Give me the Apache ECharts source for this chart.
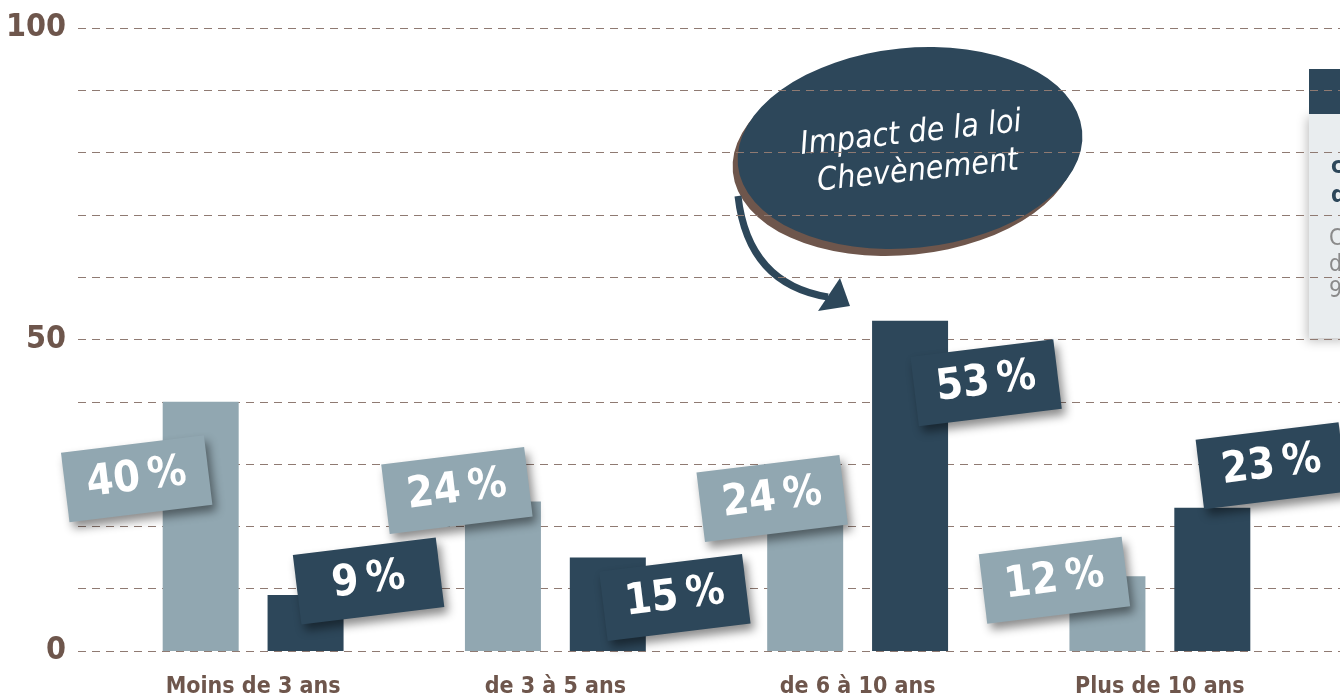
<!DOCTYPE html>
<html>

<head>
    <meta charset="UTF-8">
    <style type="text/css">
        body {
            margin: 0;
            padding: 0;
            overflow: hidden;
            background: #fff;
        }

        #chart {
            width: 1340px;
            height: 699px;
        }
    </style>
</head>

<body>
    <div id="chart"></div>
    <script src="https://cdn.jsdelivr.net/npm/echarts@6/dist/echarts.min.js"></script>
    <script>
        let CATEGORIES = ['Moins de 3 ans', 'de 3 à 5 ans', 'de 6 à 10 ans', 'Plus de 10 ans'];
        let LIGHT_VALUES = [40, 24, 24, 12];
        let DARK_VALUES = [9, 15, 53, 23];
        let Y_LABELS = [0, 50, 100];

        // label boxes are placed by hand in the original, offsets from bar top-left
        let LIGHT_LABEL_POS = [[-26, 77], [-8, -11], [5, -3], [-15, 4]];
        let DARK_LABEL_POS = [[101, -14], [105, 40], [114, 62], [97, -42]];

        let LIGHT = '#91a7b1';
        let DARK = '#2d475a';
        let BROWN = '#6e564c';
        let NARROW = '"Liberation Sans Narrow", "DejaVu Sans Condensed", sans-serif';

        var myChart = echarts.init(document.getElementById('chart'));

        function boxLabel(color) {
            return {
                show: true,
                formatter: '{c}\u2009%',
                rotate: 7,
                align: 'center',
                verticalAlign: 'middle',
                color: '#fff',
                fontFamily: NARROW,
                fontWeight: 'bold',
                fontSize: 43,
                lineHeight: 52,
                width: 104,
                height: 52,
                padding: [9, 20],
                backgroundColor: color,
                shadowColor: 'rgba(0,0,0,0.45)',
                shadowBlur: 10,
                shadowOffsetX: 4,
                shadowOffsetY: 6
            };
        }

        function makeData(values, pos) {
            return values.map((v, i) => ({
                value: v,
                label: { position: pos[i] }
            }));
        }

        let option = {
            animation: false,
            grid: [
                { left: 102, right: 29, top: 28, bottom: 48, outerBoundsMode: 'none' },
                { left: 78, right: 0, top: 28, bottom: 48, outerBoundsMode: 'none' }
            ],
            xAxis: [
                {
                    type: 'category',
                    gridIndex: 0,
                    data: CATEGORIES,
                    axisLine: { show: false },
                    axisTick: { show: false },
                    axisLabel: {
                        margin: 25,
                        color: BROWN,
                        fontFamily: NARROW,
                        fontWeight: 'bold',
                        fontSize: 23
                    }
                },
                { type: 'value', gridIndex: 1, show: false, min: 0, max: 1 }
            ],
            yAxis: [
                { type: 'value', gridIndex: 0, min: 0, max: 100, show: false },
                {
                    type: 'value',
                    gridIndex: 1,
                    min: 0,
                    max: 100,
                    interval: 10,
                    axisLine: { show: false },
                    axisTick: { show: false },
                    splitLine: {
                        lineStyle: { color: '#8f7a72', type: [8, 6], width: 1.2 }
                    },
                    axisLabel: {
                        margin: 12,
                        color: BROWN,
                        fontFamily: NARROW,
                        fontWeight: 'bold',
                        fontSize: 32,
                        formatter: function (v) {
                            return Y_LABELS.indexOf(v) >= 0 ? String(v) : '';
                        }
                    }
                }
            ],
            series: [
                {
                    type: 'bar',
                    name: 'clair',
                    xAxisIndex: 0,
                    yAxisIndex: 0,
                    barWidth: 76,
                    barGap: '38%',
                    itemStyle: { color: LIGHT },
                    label: boxLabel(LIGHT),
                    data: makeData(LIGHT_VALUES, LIGHT_LABEL_POS)
                },
                {
                    type: 'bar',
                    name: 'foncé',
                    xAxisIndex: 0,
                    yAxisIndex: 0,
                    barWidth: 76,
                    barGap: '38%',
                    itemStyle: { color: DARK },
                    label: boxLabel(DARK),
                    data: makeData(DARK_VALUES, DARK_LABEL_POS)
                }
            ],
            graphic: [
                // callout bubble
                {
                    type: 'circle', x: 905, y: 155, rotation: 0.1, scaleX: 1.73,
                    shape: { cx: 0, cy: 0, r: 100 },
                    style: { fill: BROWN }
                },
                {
                    type: 'circle', x: 910, y: 148, rotation: 0.1, scaleX: 1.73,
                    shape: { cx: 0, cy: 0, r: 100 },
                    style: { fill: DARK }
                },
                {
                    type: 'group', x: 913, y: 153, rotation: 0.105,
                    children: [
                        {
                            type: 'text', x: 0, y: -19,
                            style: {
                                text: 'Impact de la loi', fill: '#fff', align: 'center', verticalAlign: 'middle',
                                font: 'italic 32px ' + NARROW
                            }
                        },
                        {
                            type: 'text', x: 3, y: 19,
                            style: {
                                text: 'Chevènement', fill: '#fff', align: 'center', verticalAlign: 'middle',
                                font: 'italic 32px ' + NARROW
                            }
                        }
                    ]
                },
                {
                    type: 'bezierCurve',
                    shape: { x1: 738, y1: 196, cpx1: 748, cpy1: 284, x2: 828, y2: 297 },
                    style: { stroke: DARK, lineWidth: 7, fill: null }
                },
                {
                    type: 'polygon',
                    shape: { points: [[818, 311], [840, 278], [850, 306]] },
                    style: { fill: DARK }
                },
                // side panel, cut by the page edge
                {
                    type: 'rect', shape: { x: 1309, y: 114, width: 40, height: 224 },
                    style: { fill: '#e9edef', shadowColor: 'rgba(0,0,0,0.25)', shadowBlur: 10, shadowOffsetX: -2, shadowOffsetY: 3 }
                },
                {
                    type: 'rect', shape: { x: 1309, y: 69, width: 40, height: 45 },
                    style: { fill: DARK }
                },
                {
                    type: 'text', x: 1331, y: 167,
                    style: { text: 'comparaison', fill: DARK, verticalAlign: 'middle', font: 'bold 23px ' + NARROW }
                },
                {
                    type: 'text', x: 1331, y: 196,
                    style: { text: 'des durées', fill: DARK, verticalAlign: 'middle', font: 'bold 23px ' + NARROW }
                },
                {
                    type: 'text', x: 1329, y: 239,
                    style: { text: 'Ces chiffres', fill: '#8a8a8a', verticalAlign: 'middle', font: '23px ' + NARROW }
                },
                {
                    type: 'text', x: 1329, y: 265,
                    style: { text: 'de la période', fill: '#8a8a8a', verticalAlign: 'middle', font: '23px ' + NARROW }
                },
                {
                    type: 'text', x: 1329, y: 291,
                    style: { text: '9 ans', fill: '#8a8a8a', verticalAlign: 'middle', font: '23px ' + NARROW }
                }
            ]
        };
        myChart.setOption(option);
        window.onresize = myChart.resize;
    </script>
</body>

</html>
